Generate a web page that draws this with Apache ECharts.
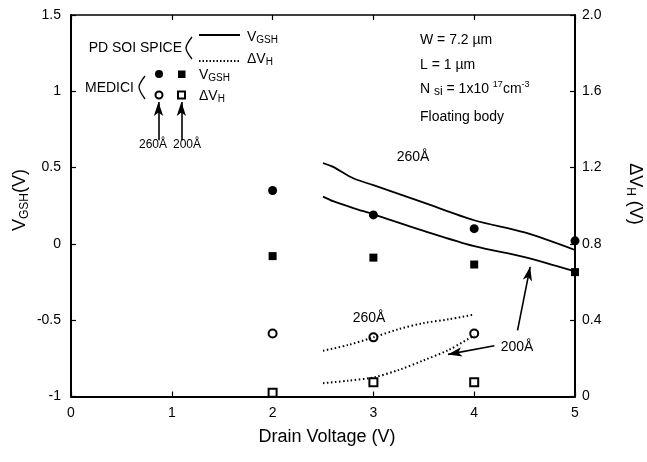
<!DOCTYPE html>
<html lang="en">
<head>
<meta charset="UTF-8">
<title>VGSH and dVH vs drain voltage</title>
<script src="https://cdn.jsdelivr.net/npm/echarts@6/dist/echarts.min.js"></script>
<style>
    html, body { margin: 0; padding: 0; background: #fff; }
    #chart { width: 647px; height: 462px; }
</style>
</head>
<body>
<div id="chart"></div>
<script>
    // MEDICI points
    var mediciX = [2, 3, 4, 5];
    var vgsh260Medici = [0.35, 0.19, 0.10, 0.02];
    var vgsh200Medici = [-0.08, -0.09, -0.135, -0.185];
    var dvhX = [2, 3, 4];
    var dvh260Medici = [0.33, 0.31, 0.33];
    var dvh200Medici = [0.02, 0.075, 0.075];

    // PD SOI SPICE curves
    var spiceX = [2.5, 2.6, 2.8, 3.0, 3.5, 4.0, 4.5, 5.0];
    var vgsh260Spice = [0.53, 0.505, 0.43, 0.385, 0.27, 0.155, 0.075, -0.04];
    var vgsh200Spice = [0.31, 0.28, 0.235, 0.194, 0.085, -0.015, -0.086, -0.18];
    var spiceDotX = [2.5, 2.75, 3.0, 3.25, 3.5, 3.75, 4.0];
    var dvh260Spice = [0.24, 0.27, 0.31, 0.353, 0.385, 0.405, 0.43];
    var dvh200Spice = [0.07, 0.083, 0.10, 0.139, 0.19, 0.245, 0.32];

    var xTicks = [0, 1, 2, 3, 4, 5];

    function pairs(xs, ys) {
        var out = [];
        for (var i = 0; i < ys.length; i++) out.push([xs[i], ys[i]]);
        return out;
    }

    var FONT = 'Liberation Sans';

    var chart = echarts.init(document.getElementById('chart'), null, { renderer: 'canvas' });

    var arrowLine = { color: '#000', width: 1.6, type: 'solid' };

    var option = {
        backgroundColor: '#fff',
        animation: false,
        grid: { left: 71, right: 72, top: 15, bottom: 65.5, containLabel: false },
        xAxis: [
            {
                type: 'value', min: 0, max: 5, interval: 1,
                axisLine: { show: true, onZero: false, lineStyle: { color: '#000', width: 2 } },
                axisTick: { show: true, inside: true, length: 5, lineStyle: { color: '#000', width: 1.2 } },
                axisLabel: { color: '#000', fontSize: 14, fontFamily: FONT, margin: 10,
                    formatter: function (v) { return xTicks.indexOf(v) >= 0 ? String(v) : ''; } },
                splitLine: { show: false }
            },
            {
                type: 'value', min: 0, max: 5, interval: 1, position: 'top',
                axisLine: { show: true, onZero: false, lineStyle: { color: '#000', width: 1.5 } },
                axisTick: { show: true, inside: true, length: 5, lineStyle: { color: '#000', width: 1.2 } },
                axisLabel: { show: false },
                splitLine: { show: false }
            }
        ],
        yAxis: [
            {
                type: 'value', min: -1, max: 1.5, interval: 0.5,
                axisLine: { show: true, onZero: false, lineStyle: { color: '#000', width: 2 } },
                axisTick: { show: true, inside: true, length: 5, lineStyle: { color: '#000', width: 1.2 } },
                axisLabel: { color: '#000', fontSize: 14, fontFamily: FONT, margin: 10 },
                splitLine: { show: false }
            },
            {
                type: 'value', min: 0, max: 2, interval: 0.4, position: 'right',
                axisLine: { show: true, onZero: false, lineStyle: { color: '#000', width: 2 } },
                axisTick: { show: true, inside: true, length: 5, lineStyle: { color: '#000', width: 1.2 } },
                axisLabel: { color: '#000', fontSize: 14, fontFamily: FONT, margin: 7,
                    formatter: function (v) { return v === 0 ? '0' : v.toFixed(1); } },
                splitLine: { show: false }
            }
        ],
        series: [
            {
                name: 'VGSH 260 SPICE', type: 'line', yAxisIndex: 0, smooth: 0.3, symbol: 'none',
                lineStyle: { color: '#000', width: 1.8 },
                data: pairs(spiceX, vgsh260Spice)
            },
            {
                name: 'VGSH 200 SPICE', type: 'line', yAxisIndex: 0, smooth: 0.3, symbol: 'none',
                lineStyle: { color: '#000', width: 1.8 },
                data: pairs(spiceX, vgsh200Spice)
            },
            {
                name: 'dVH 260 SPICE', type: 'line', yAxisIndex: 1, smooth: 0.3, symbol: 'none',
                lineStyle: { color: '#000', width: 2, type: [1.5, 2.5] },
                data: pairs(spiceDotX, dvh260Spice)
            },
            {
                name: 'dVH 200 SPICE', type: 'line', yAxisIndex: 1, smooth: 0.3, symbol: 'none',
                lineStyle: { color: '#000', width: 2, type: [1.5, 2.5] },
                data: pairs(spiceDotX, dvh200Spice)
            },
            {
                name: 'VGSH 260 MEDICI', type: 'scatter', yAxisIndex: 0, symbol: 'circle', symbolSize: 9,
                itemStyle: { color: '#000', opacity: 1 },
                data: pairs(mediciX, vgsh260Medici)
            },
            {
                name: 'VGSH 200 MEDICI', type: 'scatter', yAxisIndex: 0, symbol: 'rect', symbolSize: 8,
                itemStyle: { color: '#000', opacity: 1 },
                data: pairs(mediciX, vgsh200Medici)
            },
            {
                name: 'dVH 260 MEDICI', type: 'scatter', yAxisIndex: 1, symbol: 'circle', symbolSize: 8,
                itemStyle: { color: '#fff', borderColor: '#000', borderWidth: 2, opacity: 1 },
                data: pairs(dvhX, dvh260Medici)
            },
            {
                name: 'dVH 200 MEDICI', type: 'scatter', yAxisIndex: 1, symbol: 'rect', symbolSize: 8,
                itemStyle: { color: '#fff', borderColor: '#000', borderWidth: 2, opacity: 1 },
                data: pairs(dvhX, dvh200Medici)
            },
            {
                // arrows for annotations
                name: 'arrows', type: 'line', yAxisIndex: 0, data: [], symbol: 'none',
                markLine: {
                    silent: true, symbol: ['none', 'arrow'], symbolSize: [7, 14],
                    label: { show: false },
                    lineStyle: arrowLine,
                    data: [
                        [{ coord: [0.868, 0.68] }, { coord: [0.868, 0.93] }],
                        [{ coord: [1.095, 0.68] }, { coord: [1.095, 0.93] }],
                        [{ coord: [4.43, -0.567] }, { coord: [4.555, -0.15] }],
                        [{ coord: [4.2, -0.668] }, { coord: [3.74, -0.724] }]
                    ]
                }
            }
        ],
        graphic: [
            // axis titles
            { type: 'text', x: 20, y: 200, rotation: Math.PI / 2, style: {
                text: 'V{sub|GSH}(V)', font: '18px ' + FONT, fill: '#000', align: 'center', verticalAlign: 'middle',
                rich: { sub: { fontSize: 12, fontFamily: FONT, padding: [9, 0, 0, 0] } } } },
            { type: 'text', x: 635, y: 194, rotation: -Math.PI / 2, style: {
                text: '\u0394V{sub|H} (V)', font: '18px ' + FONT, fill: '#000', align: 'center', verticalAlign: 'middle',
                rich: { sub: { fontSize: 12, fontFamily: FONT, padding: [9, 0, 0, 0] } } } },
            { type: 'text', x: 327, y: 437, style: {
                text: 'Drain Voltage (V)', font: '18px ' + FONT, fill: '#000', align: 'center', verticalAlign: 'middle' } },

            // legend: PD SOI SPICE
            { type: 'text', x: 182, y: 48, style: { text: 'PD SOI SPICE', font: '14px ' + FONT, fill: '#000', align: 'right', verticalAlign: 'middle' } },
            { type: 'polyline', shape: { points: [[192, 37], [186, 48], [192, 59]], smooth: 0.3 }, style: { stroke: '#000', lineWidth: 1.3, fill: null } },
            { type: 'line', shape: { x1: 199, y1: 35, x2: 240, y2: 35 }, style: { stroke: '#000', lineWidth: 1.8 } },
            { type: 'line', shape: { x1: 199, y1: 61, x2: 240, y2: 61 }, style: { stroke: '#000', lineWidth: 1.8, lineDash: [1.5, 2] } },
            { type: 'text', x: 247, y: 37, style: { text: 'V{sub|GSH}', font: '14px ' + FONT, fill: '#000', verticalAlign: 'middle',
                rich: { sub: { fontSize: 10, fontFamily: FONT, padding: [7, 0, 0, 0] } } } },
            { type: 'text', x: 247, y: 59, style: { text: '\u0394V{sub|H}', font: '14px ' + FONT, fill: '#000', verticalAlign: 'middle',
                rich: { sub: { fontSize: 10, fontFamily: FONT, padding: [7, 0, 0, 0] } } } },

            // legend: MEDICI
            { type: 'text', x: 85, y: 88, style: { text: 'MEDICI', font: '14px ' + FONT, fill: '#000', verticalAlign: 'middle' } },
            { type: 'polyline', shape: { points: [[145, 76], [139, 87], [145, 99]], smooth: 0.3 }, style: { stroke: '#000', lineWidth: 1.3, fill: null } },
            { type: 'circle', shape: { cx: 159, cy: 74, r: 4 }, style: { fill: '#000' } },
            { type: 'rect', shape: { x: 178, y: 70.5, width: 7.5, height: 7.5 }, style: { fill: '#000' } },
            { type: 'circle', shape: { cx: 159, cy: 95, r: 3.5 }, style: { fill: '#fff', stroke: '#000', lineWidth: 2 } },
            { type: 'rect', shape: { x: 178, y: 91.5, width: 7, height: 7 }, style: { fill: '#fff', stroke: '#000', lineWidth: 2 } },
            { type: 'text', x: 199, y: 75, style: { text: 'V{sub|GSH}', font: '14px ' + FONT, fill: '#000', verticalAlign: 'middle',
                rich: { sub: { fontSize: 10, fontFamily: FONT, padding: [7, 0, 0, 0] } } } },
            { type: 'text', x: 199, y: 96, style: { text: '\u0394V{sub|H}', font: '14px ' + FONT, fill: '#000', verticalAlign: 'middle',
                rich: { sub: { fontSize: 10, fontFamily: FONT, padding: [7, 0, 0, 0] } } } },
            { type: 'text', x: 153, y: 145, style: { text: '260\u00c5', font: '12px ' + FONT, fill: '#000', align: 'center', verticalAlign: 'middle' } },
            { type: 'text', x: 187, y: 145, style: { text: '200\u00c5', font: '12px ' + FONT, fill: '#000', align: 'center', verticalAlign: 'middle' } },

            // parameter box
            { type: 'text', x: 420, y: 40, style: { text: 'W = 7.2 \u00b5m', font: '14px ' + FONT, fill: '#000', verticalAlign: 'middle' } },
            { type: 'text', x: 420, y: 65, style: { text: 'L = 1 \u00b5m', font: '14px ' + FONT, fill: '#000', verticalAlign: 'middle' } },
            { type: 'text', x: 420, y: 89, style: { text: 'N {sub|si} = 1x10 {sup|17}cm{sup|-3}', font: '14px ' + FONT, fill: '#000', verticalAlign: 'middle',
                rich: { sub: { fontSize: 12, fontFamily: FONT, padding: [5, 0, 0, 0] }, sup: { fontSize: 9, fontFamily: FONT, padding: [0, 0, 9, 0] } } } },
            { type: 'text', x: 420, y: 117, style: { text: 'Floating body', font: '14px ' + FONT, fill: '#000', verticalAlign: 'middle' } },

            // curve annotations
            { type: 'text', x: 413, y: 157, style: { text: '260\u00c5', font: '14px ' + FONT, fill: '#000', align: 'center', verticalAlign: 'middle' } },
            { type: 'text', x: 369, y: 318, style: { text: '260\u00c5', font: '14px ' + FONT, fill: '#000', align: 'center', verticalAlign: 'middle' } },
            { type: 'text', x: 517, y: 347, style: { text: '200\u00c5', font: '14px ' + FONT, fill: '#000', align: 'center', verticalAlign: 'middle' } }
        ]
    };

    chart.setOption(option);
</script>
</body>
</html>
